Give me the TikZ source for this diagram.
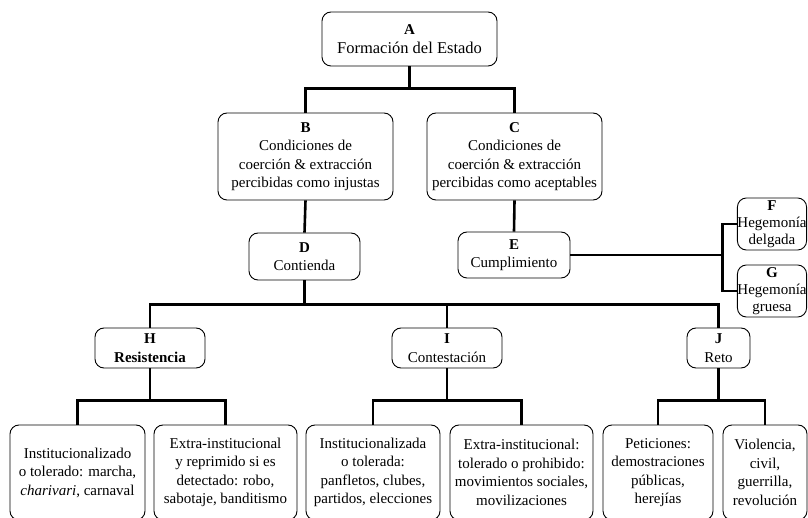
\documentclass[tikz,border=0pt]{standalone}
\usepackage{fontspec}
\setmainfont{Liberation Serif}
\tikzset{
  box/.style={draw, rounded corners=9pt, line width=0.9pt, align=center, inner sep=0pt,
    font=\fontsize{15}{18.5}\selectfont},
  small box/.style={box, font=\fontsize{15}{17}\selectfont},
  conn/.style={line width=2.6pt},
}

\begin{document}
\begin{tikzpicture}[x=1pt, y=1pt]
\useasboundingbox (0,0) rectangle (808,517);

% Top levels
\node[box, minimum width=175pt, minimum height=54pt] (A) at (409.5,478)
  {\textbf{A}\\\fontsize{16.5}{20}\selectfont Formación del Estado};
\node[box, minimum width=175pt, minimum height=87pt] (B) at (305.5,360.5)
  {\textbf{B}\\Condiciones de\\coerción \& extracción\\percibidas como injustas};
\node[box, minimum width=175pt, minimum height=87pt] (C) at (514.5,360.5)
  {\textbf{C}\\Condiciones de\\coerción \& extracción\\percibidas como aceptables};
\node[box, minimum width=111pt, minimum height=47pt] (D) at (304.5,260.5)
  {\textbf{D}\\Contienda};
\node[box, minimum width=112pt, minimum height=46pt] (E) at (514,262)
  {\textbf{E}\\Cumplimiento};
\node[small box, minimum width=68pt, minimum height=52pt] (F) at (772,293)
  {\textbf{F}\\Hegemonía\\delgada};
\node[small box, minimum width=68pt, minimum height=52pt] (G) at (772,226)
  {\textbf{G}\\Hegemonía\\gruesa};

% Contienda
\node[box, minimum width=110pt, minimum height=40pt] (H) at (150,169)
  {\textbf{H}\\\textbf{Resistencia}};
\node[box, minimum width=110pt, minimum height=40pt] (I) at (447,169)
  {\textbf{I}\\Contestación};
\node[box, minimum width=63pt, minimum height=40pt] (J) at (718.5,169)
  {\textbf{J}\\Reto};

% Bottom row
\node[box, minimum width=135pt, minimum height=95pt] (H1) at (77.5,44.5)
  {Institucionalizado\\o tolerado: marcha,\\\textit{charivari}, carnaval};
\node[box, minimum width=143pt, minimum height=95pt] (H2) at (225.5,44.5)
  {Extra-institucional\\y reprimido si es\\detectado: robo,\\sabotaje, banditismo};
\node[box, minimum width=134pt, minimum height=95pt] (I1) at (373,44.5)
  {Institucionalizada\\o tolerada:\\panfletos, clubes,\\partidos, elecciones};
\node[box, minimum width=143pt, minimum height=95pt] (I2) at (521.5,44.5)
  {Extra-institucional:\\tolerado o prohibido:\\movimientos sociales,\\movilizaciones};
\node[box, minimum width=110pt, minimum height=95pt] (J1) at (658,44.5)
  {Peticiones:\\demostraciones\\públicas,\\herejías};
\node[box, minimum width=84pt, minimum height=95pt] (J2) at (765,44.5)
  {Violencia,\\civil,\\guerrilla,\\revolución};

% Connectors
\draw[conn] (A.south) -- ++(0,-22) coordinate (A-b);
\draw[conn] (B.north) |- (A-b) -| (C.north);
\draw[conn] (B.south) -- (D.north);
\draw[conn] (C.south) -- (E.north);
\draw[conn] (E.east) -- ++(152,0) coordinate (E-b);
\draw[conn] (F.west) -| (E-b) |- (G.west);
\draw[conn] (D.south) -- ++(0,-24) coordinate (D-b);
\draw[conn] (H.north) |- (D-b) -| (J.north);
\draw[conn] (D-b) -| (I.north);
\foreach \p in {H, I, J} {
  \draw[conn] (\p.south) -- ++(0,-32) coordinate (\p-b);
  \draw[conn] (\p1.north) |- (\p-b) -| (\p2.north);
}
\end{tikzpicture}
\end{document}
